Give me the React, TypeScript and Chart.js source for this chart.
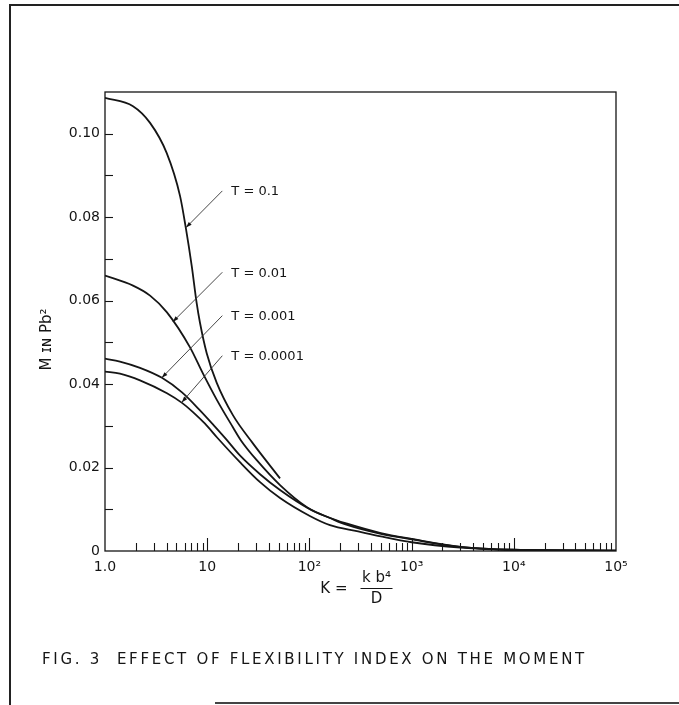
import React, { useEffect, useRef } from 'react';
import { Chart, registerables } from 'chart.js';

Chart.register(...registerables);

// T = 0.1
const kT1 = [1, 1.88, 2.76, 4.01, 5.42, 6.2, 7.05, 7.89, 8.5, 9.89, 12.4, 17.9, 28, 51.6];
const mT1 = [0.1086, 0.1066, 0.1026, 0.0954, 0.0851, 0.0772, 0.0684, 0.0594, 0.0547, 0.0474, 0.0403, 0.0325, 0.0258, 0.0174];
// T = 0.01
const kT2 = [1, 1.88, 2.76, 4.04, 6.79, 9.1, 12.5, 17.9, 21.4, 30.7, 51.6, 94.7, 160, 230, 500, 1000, 3000, 10000, 100000];
const mT2 = [0.066, 0.0636, 0.0612, 0.0572, 0.0488, 0.0425, 0.0361, 0.0296, 0.0265, 0.0217, 0.0158, 0.0105, 0.0079, 0.0066, 0.0043, 0.0029, 0.001, 0.0003, 0.0001];
// T = 0.001
const kT3 = [1, 1.4, 2.2, 3.61, 5.67, 8.5, 11.9, 15.3, 20.9, 32.9, 51.6, 101, 159, 230, 500, 1000, 3000, 10000, 100000];
const mT3 = [0.0461, 0.0454, 0.0439, 0.0415, 0.038, 0.0337, 0.0298, 0.0268, 0.0229, 0.0184, 0.0146, 0.01, 0.0079, 0.0063, 0.0041, 0.0028, 0.001, 0.0003, 0.0001];
// T = 0.0001
const kT4 = [1, 1.4, 2.2, 4.04, 5.67, 7.26, 9.52, 12.5, 20.9, 32.9, 51.6, 101, 159, 300, 500, 1000, 3000, 10000, 100000];
const mT4 = [0.043, 0.0425, 0.0409, 0.0378, 0.0355, 0.0333, 0.0305, 0.0272, 0.0213, 0.0165, 0.0127, 0.0084, 0.0062, 0.0047, 0.0035, 0.0021, 0.0008, 0.0002, 0.0001];

const seriesLabels = ['T = 0.1', 'T = 0.01', 'T = 0.001', 'T = 0.0001'];
const annotationLabels = ['T = 0.1', 'T = 0.01', 'T = 0.001', 'T = 0.0001'];
const arrowTipK = [6.2, 4.6, 3.59, 5.63];
const arrowTipM = [0.0775, 0.0549, 0.0415, 0.0356];
const arrowTailK = [14.06, 14.06, 14.06, 14.06];
const arrowTailM = [0.0863, 0.0668, 0.0564, 0.0468];

const xDecadeLabels = ['1.0', '10', '10²', '10³', '10⁴', '10⁵'];
const yTitle = 'M ɪɴ Pb²';
const xTitleLeft = 'K =';
const xTitleNum = 'k b⁴';
const xTitleDen = 'D';
const caption = 'FIG. 3  EFFECT OF FLEXIBILITY INDEX ON THE MOMENT';

const INK = '#151515';
const FONT = '"DejaVu Sans", sans-serif';

const paperPlugin = {
  id: 'paper',
  afterDraw(chart: any) {
    const { ctx, chartArea: a, scales } = chart;
    const xs = scales.x;
    const ys = scales.y;
    ctx.save();
    ctx.strokeStyle = INK;
    ctx.fillStyle = INK;
    // frame
    ctx.lineWidth = 1.3;
    ctx.strokeRect(a.left, a.top, a.right - a.left, a.bottom - a.top);
    // x ticks inward
    ctx.lineWidth = 1.1;
    xs.ticks.forEach((t: any) => {
      const px = xs.getPixelForValue(t.value);
      if (px <= a.left + 1 || px >= a.right - 1) return;
      const e = Math.log10(t.value);
      const major = Math.abs(e - Math.round(e)) < 1e-6;
      const len = major ? 13 : 8;
      ctx.beginPath();
      ctx.moveTo(Math.round(px) + 0.5, a.bottom);
      ctx.lineTo(Math.round(px) + 0.5, a.bottom - len);
      ctx.stroke();
    });
    // y ticks inward
    ys.ticks.forEach((t: any) => {
      const py = ys.getPixelForValue(t.value);
      if (py <= a.top + 1 || py >= a.bottom - 1) return;
      ctx.beginPath();
      ctx.moveTo(a.left, Math.round(py) + 0.5);
      ctx.lineTo(a.left + 8, Math.round(py) + 0.5);
      ctx.stroke();
    });
    // annotations with arrows
    ctx.font = `13px ${FONT}`;
    ctx.textBaseline = 'middle';
    ctx.textAlign = 'left';
    for (let i = 0; i < annotationLabels.length; i++) {
      const tx = xs.getPixelForValue(arrowTipK[i]);
      const ty = ys.getPixelForValue(arrowTipM[i]);
      const sx = xs.getPixelForValue(arrowTailK[i]);
      const sy = ys.getPixelForValue(arrowTailM[i]);
      ctx.lineWidth = 0.9;
      ctx.strokeStyle = '#333';
      ctx.beginPath();
      ctx.moveTo(sx, sy);
      ctx.lineTo(tx, ty);
      ctx.stroke();
      const ang = Math.atan2(ty - sy, tx - sx);
      const L = 6, W = 2;
      ctx.beginPath();
      ctx.moveTo(tx, ty);
      ctx.lineTo(tx - L * Math.cos(ang) + W * Math.sin(ang), ty - L * Math.sin(ang) - W * Math.cos(ang));
      ctx.lineTo(tx - L * Math.cos(ang) - W * Math.sin(ang), ty - L * Math.sin(ang) + W * Math.cos(ang));
      ctx.closePath();
      ctx.fill();
      ctx.fillText(annotationLabels[i], sx + 9, sy + 1);
    }
    // y title
    ctx.save();
    ctx.translate(47, (a.top + a.bottom) / 2 + 18);
    ctx.rotate(-Math.PI / 2);
    ctx.font = `15px ${FONT}`;
    ctx.textAlign = 'center';
    ctx.textBaseline = 'middle';
    ctx.fillText(yTitle, 0, 0);
    ctx.restore();
    // x title as fraction
    const cx = (a.left + a.right) / 2;
    const barY = a.bottom + 37;
    ctx.font = `15px ${FONT}`;
    ctx.textBaseline = 'middle';
    ctx.textAlign = 'right';
    ctx.fillText(xTitleLeft, cx - 13, barY + 1);
    ctx.textAlign = 'center';
    ctx.fillText(xTitleNum, cx + 16, barY - 10);
    ctx.fillText(xTitleDen, cx + 16, barY + 11);
    ctx.lineWidth = 1.1;
    ctx.strokeStyle = INK;
    ctx.beginPath();
    ctx.moveTo(cx, barY + 0.5);
    ctx.lineTo(cx + 32, barY + 0.5);
    ctx.stroke();
    // caption
    ctx.font = `15px ${FONT}`;
    ctx.textAlign = 'left';
    (ctx as any).letterSpacing = '2.7px';
    ctx.fillText(caption, 42, a.bottom + 109);
    (ctx as any).letterSpacing = '0px';
    ctx.restore();
  },
};

function toPoints(ks: number[], ms: number[]) {
  return ks.map((k, i) => ({ x: k, y: ms[i] }));
}

export default function App() {
  const ref = useRef<HTMLCanvasElement>(null);
  useEffect(() => {
    const lineStyle = {
      borderColor: INK,
      borderWidth: 1.8,
      pointRadius: 0,
      fill: false,
      cubicInterpolationMode: 'monotone' as const,
    };
    const chart = new Chart(ref.current as HTMLCanvasElement, {
      type: 'line',
      data: {
        datasets: [
          { label: seriesLabels[0], data: toPoints(kT1, mT1), ...lineStyle },
          { label: seriesLabels[1], data: toPoints(kT2, mT2), ...lineStyle },
          { label: seriesLabels[2], data: toPoints(kT3, mT3), ...lineStyle },
          { label: seriesLabels[3], data: toPoints(kT4, mT4), ...lineStyle },
        ],
      },
      options: {
        responsive: false,
        animation: false,
        parsing: false,
        layout: { padding: { left: 10, top: 92, right: 63, bottom: 124 } },
        plugins: { legend: { display: false }, tooltip: { enabled: false } },
        scales: {
          x: {
            type: 'logarithmic',
            position: 'bottom',
            min: 1,
            max: 100000,
            grid: { display: false, drawTicks: false },
            border: { display: false },
            afterBuildTicks: (scale: any) => {
              const t: any[] = [];
              for (let e = 0; e < 5; e++) {
                for (let m = 1; m < 10; m++) t.push({ value: m * Math.pow(10, e) });
              }
              t.push({ value: 100000 });
              scale.ticks = t;
            },
            afterFit: (scale: any) => { scale.height = 30; },
            ticks: {
              autoSkip: false,
              maxRotation: 0,
              minRotation: 0,
              padding: 8,
              color: INK,
              font: { family: FONT, size: 14 },
              callback: (value: any) => {
                const e = Math.log10(Number(value));
                if (Math.abs(e - Math.round(e)) < 1e-6) return xDecadeLabels[Math.round(e)] ?? '';
                return '';
              },
            },
          },
          y: {
            type: 'linear',
            min: 0,
            max: 0.11,
            grid: { display: false, drawTicks: false },
            border: { display: false },
            afterFit: (scale: any) => { scale.width = 95; },
            ticks: {
              stepSize: 0.01,
              autoSkip: false,
              padding: 5,
              color: INK,
              font: { family: FONT, size: 14 },
              callback: (value: any) => {
                const v = Math.round(Number(value) * 100);
                if (v % 2 !== 0 || v > 10) return '';
                return v === 0 ? '0' : (v / 100).toFixed(2);
              },
            },
          },
        },
      },
      plugins: [paperPlugin],
    });
    return () => chart.destroy();
  }, []);
  return (
    <div style={{ position: 'absolute', left: 0, top: 0, width: 679, height: 705, background: '#fff', overflow: 'hidden' }}>
      <canvas ref={ref} width={679} height={705} style={{ display: 'block', width: 679, height: 705 }} />
      <div style={{ position: 'absolute', left: 9, top: 4, width: 2, height: 701, background: '#222' }} />
      <div style={{ position: 'absolute', left: 9, top: 4, width: 670, height: 2, background: '#222' }} />
      <div style={{ position: 'absolute', left: 215, top: 702, width: 464, height: 2, background: '#444' }} />
    </div>
  );
}
